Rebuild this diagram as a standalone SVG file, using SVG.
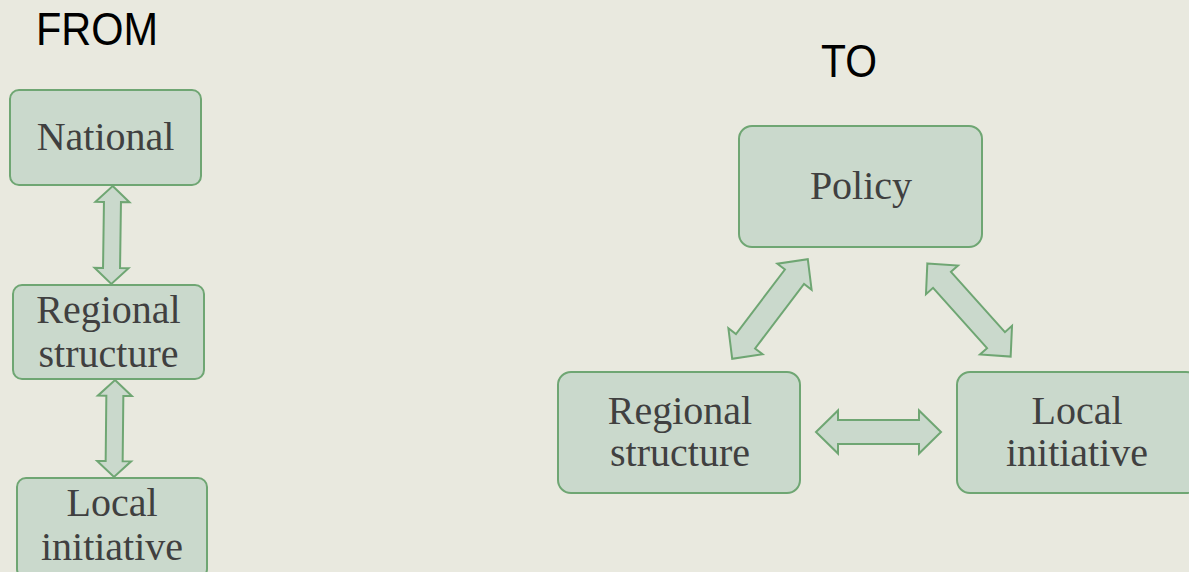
<svg xmlns="http://www.w3.org/2000/svg" xmlns:xlink="http://www.w3.org/1999/xlink" width="1189" height="572" viewBox="0 0 1189 572">
  <style>
    .box { fill: #CAD9CC; stroke: #6FA673; stroke-width: 2; }
    .label { font-family: "Liberation Serif", "Times New Roman", serif; font-size: 40px; fill: #404040; text-anchor: middle; }
    .title { font-family: "Liberation Sans", Arial, sans-serif; font-size: 46px; fill: #000000; }
    .arrow { fill: #CAD9CC; stroke: #6FA673; stroke-width: 2; stroke-linejoin: miter; }
  </style>
  <defs>
    <!-- double-headed block arrows, drawn along the x axis about the origin -->
    <path id="dbl-lg" d="M-62.5,0 L-40.5,-21.5 L-40.5,-12 L40.5,-12 L40.5,-21.5 L62.5,0 L40.5,21.5 L40.5,12 L-40.5,12 L-40.5,21.5 Z"/>
    <path id="dbl-sm" d="M-49,0 L-33,-17 L-33,-8.5 L33,-8.5 L33,-17 L49,0 L33,17 L33,8.5 L-33,8.5 L-33,17 Z"/>
  </defs>

  <rect width="1189" height="572" fill="#E9E9DF"/>

  <text class="title" x="36" y="45" textLength="122" lengthAdjust="spacingAndGlyphs">FROM</text>
  <text class="title" x="821" y="77" textLength="56" lengthAdjust="spacingAndGlyphs">TO</text>

  <!-- hierarchy column -->
  <g id="from-national">
    <rect class="box" x="10" y="90" width="191" height="95" rx="9"/>
    <text class="label" x="105.5" y="150">National</text>
  </g>
  <g id="from-regional">
    <rect class="box" x="13" y="285" width="191" height="94" rx="9"/>
    <text class="label" x="108.5" y="323">Regional</text>
    <text class="label" x="108.5" y="367">structure</text>
  </g>
  <g id="from-local">
    <rect class="box" x="17" y="478" width="190" height="100" rx="9"/>
    <text class="label" x="112" y="516">Local</text>
    <text class="label" x="112" y="560">initiative</text>
  </g>

  <!-- network triangle -->
  <g id="to-policy">
    <rect class="box" x="739" y="126" width="243" height="121" rx="13"/>
    <text class="label" x="861" y="199">Policy</text>
  </g>
  <g id="to-regional">
    <rect class="box" x="558" y="372" width="242" height="121" rx="13"/>
    <text class="label" x="680" y="424">Regional</text>
    <text class="label" x="680" y="466">structure</text>
  </g>
  <g id="to-local">
    <rect class="box" x="957" y="372" width="242" height="121" rx="13"/>
    <text class="label" x="1077" y="424">Local</text>
    <text class="label" x="1077" y="466">initiative</text>
  </g>

  <g id="connectors">
    <use class="arrow" xlink:href="#dbl-sm" href="#dbl-sm" transform="translate(112,235) rotate(90.8)"/>
    <use class="arrow" xlink:href="#dbl-sm" href="#dbl-sm" transform="translate(114.5,428.5) rotate(90.6) scale(0.99,1)"/>
    <use class="arrow" xlink:href="#dbl-lg" href="#dbl-lg" transform="translate(770,309) rotate(-52.8)"/>
    <use class="arrow" xlink:href="#dbl-lg" href="#dbl-lg" transform="translate(969,310) rotate(48.2)"/>
    <use class="arrow" xlink:href="#dbl-lg" href="#dbl-lg" transform="translate(878.5,432)"/>
  </g>
</svg>
